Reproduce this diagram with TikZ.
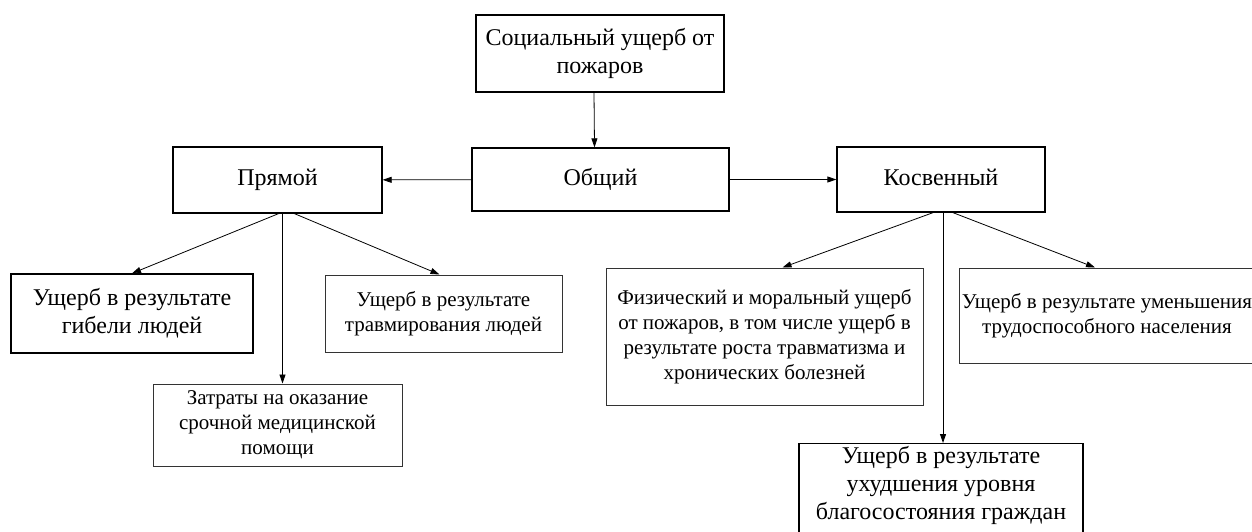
\documentclass[tikz,border=0pt]{standalone}
\usepackage{fontspec}
\setmainfont{Liberation Serif}
\usetikzlibrary{arrows.meta}
\def\bigtext{\fontsize{24}{28}\selectfont}
\def\smalltext{\fontsize{21}{25}\selectfont}

\begin{document}
\begin{tikzpicture}[x=1pt, y=-1pt,
		box/.style={draw, line width=1.3pt, align=center, inner sep=0pt, font=\bigtext},
		thinbox/.style={draw=black!80, line width=1pt, align=center, inner sep=0pt, font=\smalltext},
		oneline/.style={text height=16pt, text depth=5pt},
		arr/.style={-{Triangle[length=9pt,width=6pt]}, line width=0.8pt}]
		%%%%% START %%%%%
		
		\useasboundingbox (0,0) rectangle (1252,531);
		\clip (0,0) rectangle (1252,531);
		
		\node[box, minimum width=248pt, minimum height=77pt] (soc) at (600,53.5) {Социальный ущерб от\\пожаров};
		\node[box, oneline, minimum width=257pt, minimum height=63pt] (obsh) at (600.5,179.5) {Общий};
		\node[box, oneline, minimum width=209pt, minimum height=66pt] (pryam) at (277.5,180) {Прямой};
		\node[box, oneline, minimum width=208pt, minimum height=65pt] (kosv) at (941,179.5) {Косвенный};
		
		\node[box, minimum width=242pt, minimum height=79pt] (gibel) at (132,313.5) {Ущерб в результате\\гибели людей};
		\node[thinbox, minimum width=237pt, minimum height=77pt] (travm) at (443.5,313.5) {Ущерб в результате\\травмирования людей};
		\node[thinbox, minimum width=249pt, minimum height=82pt] (zatr) at (277.5,425) {Затраты на оказание\\срочной медицинской\\помощи};
		
		\node[thinbox, minimum width=317pt, minimum height=137pt] (fiz) at (764.5,336.5) {Физический и моральный ущерб\\от пожаров, в том числе ущерб в\\результате роста травматизма и\\хронических болезней};
		\node[thinbox, minimum width=296pt, minimum height=95pt] (umen) at (1107,315.5) {Ущерб в результате уменьшения\\трудоспособного населения};
		\node[box, minimum width=284pt, anchor=north, inner ysep=3pt] (uhud) at (941,443) {Ущерб в результате\\ухудшения уровня\\благосостояния граждан\rule[-40pt]{0pt}{0pt}};
		
		\draw[arr] ([xshift=-6pt]soc.south) -- ([xshift=-6pt]obsh.north);
		\draw[arr] (obsh) -- (pryam);
		\draw[arr] (obsh) -- (kosv);
		
		\draw[arr] ([xshift=1pt]pryam.south) -- (gibel.north);
		\draw[arr] ([xshift=5pt]pryam.south) -- ([xshift=5pt]zatr.north);
		\draw[arr] ([xshift=17pt]pryam.south) -- ([xshift=-4pt]travm.north);
		
		\draw[arr] ([xshift=-8pt]kosv.south) -- ([xshift=18pt]fiz.north);
		\draw[arr] ([xshift=2pt]kosv.south) -- ([xshift=2pt]uhud.north);
		\draw[arr] ([xshift=12pt]kosv.south) -- ([xshift=-12pt]umen.north);
		
		%%%%% END %%%%%
	\end{tikzpicture}
\end{document}
